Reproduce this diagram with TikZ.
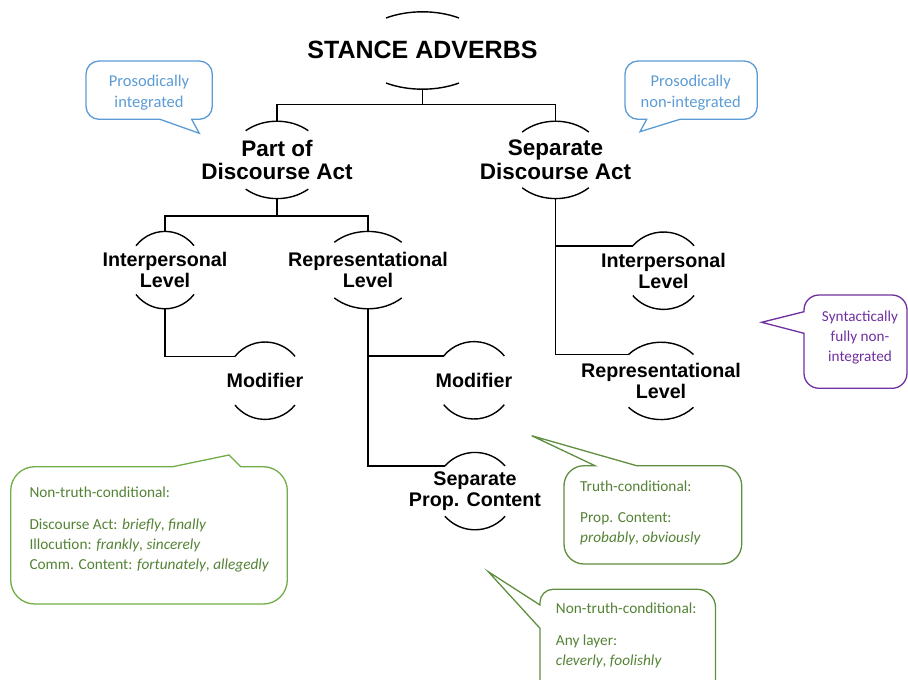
\documentclass[tikz,border=0pt]{standalone}
\usepackage{fontspec}
\newfontfamily\treefont{Liberation Sans}
\newfontfamily\notefont{Carlito}
\usepackage{tikz}
\usetikzlibrary{positioning}
\definecolor{noteblue}{HTML}{5B9BD5}
\definecolor{notepurple}{HTML}{7030A0}
\definecolor{notegreen}{HTML}{70AD47}
\definecolor{notedkgreen}{HTML}{5E8E3E}
\definecolor{notetxtgreen}{HTML}{548235}

\begin{document}
\begin{tikzpicture}[
    x=1pt, y=1pt,
    lvl/.style={inner sep=0pt, minimum height=77.4pt, align=center, font=\treefont\bfseries\fontsize{19.7}{20.7}\selectfont},
    act/.style={lvl, font=\treefont\bfseries\fontsize{22.5}{23.5}\selectfont},
    link/.style={line width=1.4pt},
    arcline/.style={line width=1.4pt},
    bubble/.style={line width=1.3pt, rounded corners=#1},
    notetext/.style={inner sep=0pt, align=left, anchor=north west, text=notetxtgreen, font=\notefont\fontsize{15.3}{19.8}\selectfont}
]
    \path[use as bounding box, clip] (0,0) rectangle (908,-680);

    % tree
    \node[lvl, font=\treefont\bfseries\fontsize{25}{27}\selectfont, text depth=2pt] (title) at (422.5,-50.5) {STANCE ADVERBS};
    \node[act, below=31.6pt of title, xshift=-145.5pt] (partof) {Part of\\Discourse Act};
    \node[act, below=31.6pt of title, xshift=133pt] (sepda) {Separate\\Discourse Act};
    \node[lvl, below=32.4pt of partof, xshift=-112pt] (interpL) {Interpersonal\\Level};
    \node[lvl, below=32.4pt of partof, xshift=91pt] (reprL) {Representational\\Level};
    \node[lvl, below=32.8pt of interpL, xshift=100pt] (modL) {Modifier};
    \node[lvl, below=32.4pt of reprL, xshift=106pt] (modR) {Modifier};
    \node[lvl, below=33pt of modR, xshift=1pt] (sepprop) {Separate\\Prop. Content};
    \node[lvl, below=33pt of sepda, xshift=108pt] (interpR) {Interpersonal\\Level};
    \node[lvl, below=32.4pt of interpR, xshift=-2.5pt] (reprR) {Representational\\Level};

    % arcs above and below each label
    \foreach \n/\rx/\ang in {title/67.2/57.1, partof/47.7/49, sepda/48/46, interpL/37.3/39, reprL/48.5/46,
                             modL/38.6/39, modR/39/39, sepprop/39.5/40.5, interpR/40/40, reprR/44.4/43}{
        \draw[arcline] (\n.center) ++(180-\ang:{\rx} and 38.7) coordinate (\n-tl)
            arc[start angle=180-\ang, end angle=\ang, x radius=\rx, y radius=38.7];
        \draw[arcline] (\n.center) ++(-\ang:{\rx} and 38.7)
            arc[start angle=-\ang, end angle=-180+\ang, x radius=\rx, y radius=38.7];
    }

    \draw[link] (title.south) -- ++(0,-15) -| (partof.north);
    \draw[link] (title.south) -- ++(0,-15) -| (sepda.north);
    \draw[link] (partof.south) -- ++(0,-17) -| (interpL.north);
    \draw[link] (partof.south) -- ++(0,-17) -| (reprL.north);
    \draw[link] (interpL.south) |- (modL-tl);
    \draw[link] (reprL.south) |- (modR-tl);
    \draw[link] (reprL.south) |- (sepprop-tl);
    \draw[link] (sepda.south) |- (interpR-tl);
    \draw[link] (sepda.south) |- (reprR-tl);

    % callouts
    \draw[bubble=13pt, noteblue] (86,-90) -- (86,-61) -- (212.3,-61) -- (212.3,-119.3) [sharp corners]
        -- (191.7,-119.3) -- (199.3,-133.3) -- (160,-119.3) [rounded corners=13pt] -- (86,-119.3) -- cycle;
    \node[notetext, anchor=north, align=center, text=noteblue, font=\notefont\fontsize{16.5}{21.5}\selectfont] (pint) at (149,-74.5) {Prosodically\\integrated};

    \draw[bubble=13pt, noteblue] (625,-90) -- (625,-61) -- (757.3,-61) -- (757.3,-119.3) [sharp corners]
        -- (680,-119.3) -- (640,-131.7) -- (646.7,-119.3) [rounded corners=13pt] -- (625,-119.3) -- cycle;
    \node[notetext, anchor=north, align=center, text=noteblue, font=\notefont\fontsize{16.5}{21.5}\selectfont] (pnonint) at (690.7,-74.5) {Prosodically\\non-integrated};

    \draw[bubble=15pt, notepurple] (855,-295) -- (907,-295) -- (907,-388.3) -- (804,-388.3) [sharp corners]
        -- (804,-333.3) -- (761.7,-322.3) -- (804,-311.7) [rounded corners=15pt] -- (804,-295) -- cycle;
    \node[notetext, anchor=north, align=center, text=notepurple, font=\notefont\fontsize{15.2}{20}\selectfont] (synt) at (860,-310.4) {Syntactically\\fully non-\\integrated};

    \draw[bubble=24pt, notegreen] (10.7,-535) -- (10.7,-466.7) [sharp corners] -- (172.7,-466.7)
        -- (229,-455) -- (240.7,-466.7) [rounded corners=24pt] -- (287.3,-466.7) -- (287.3,-604) -- (10.7,-604) -- cycle;
    \node[notetext] (ntcone) at (29.3,-486.9) {Non-truth-conditional:\\[12pt]
        Discourse Act: \textit{briefly}, \textit{finally}\\
        Illocution: \textit{frankly}, \textit{sincerely}\\
        Comm. Content: \textit{fortunately}, \textit{allegedly}};

    \draw[bubble=20pt, notedkgreen] (564,-515) -- (564,-465.7) [sharp corners] -- (595,-465.7)
        -- (531.7,-435.7) -- (636.7,-465.7) [rounded corners=20pt] -- (741.7,-465.7) -- (741.7,-564) -- (564,-564) -- cycle;
    \node[notetext] (tc) at (580,-480.3) {Truth-conditional:\\[12pt]
        Prop. Content:\\
        \textit{probably}, \textit{obviously}};

    \draw[bubble=18pt, notedkgreen] (620,-589.3) -- (715.5,-589.3) -- (715.5,-700) -- (540,-700) [sharp corners]
        -- (540,-628.3) -- (488.3,-571.7) -- (540,-605) [rounded corners=13pt] -- (540,-589.3) -- cycle;
    \node[notetext] (ntctwo) at (555.7,-602.9) {Non-truth-conditional:\\[12pt]
        Any layer:\\
        \textit{cleverly}, \textit{foolishly}};
\end{tikzpicture}
\end{document}
